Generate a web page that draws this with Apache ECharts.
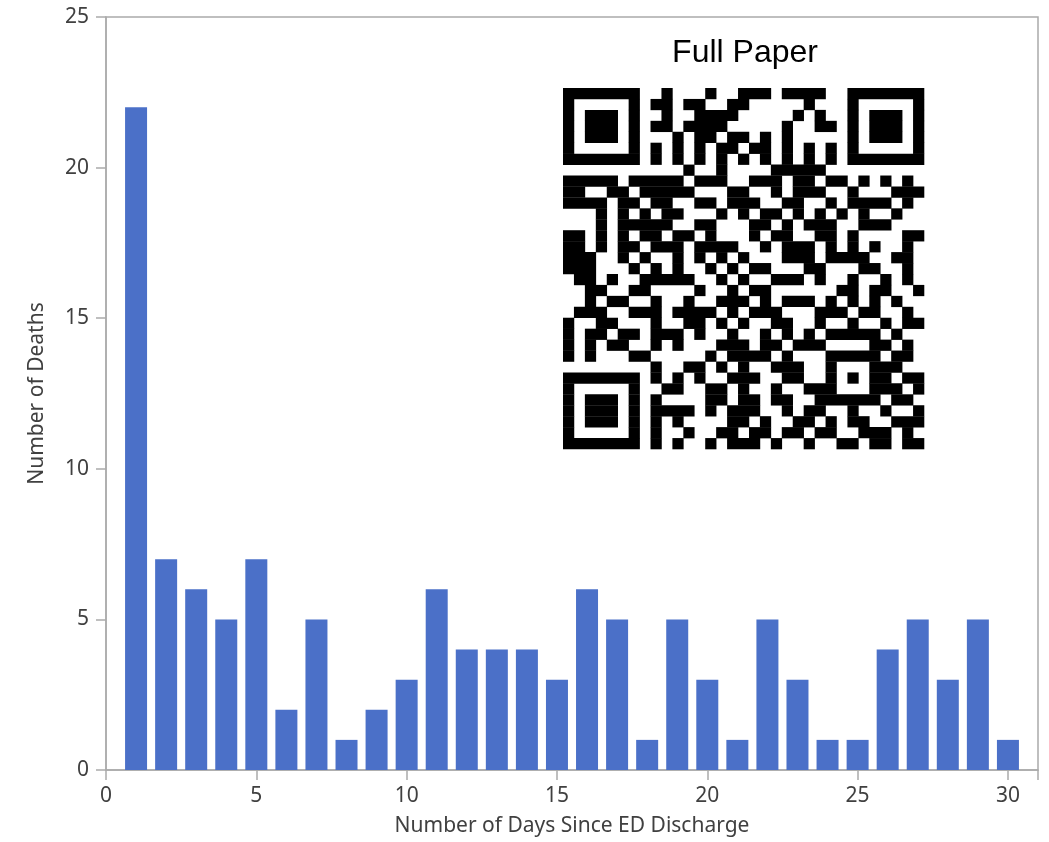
<!DOCTYPE html>
<html>
<head>
<meta charset="utf-8">
<script src="https://cdn.jsdelivr.net/npm/echarts@6/dist/echarts.min.js"></script>
<style>html,body{margin:0;padding:0;background:#fff;}#c{width:1049px;height:842px;}</style>
</head>
<body>
<div id="c"></div>
<script>
// ---- data ----
const days = [1,2,3,4,5,6,7,8,9,10,11,12,13,14,15,16,17,18,19,20,21,22,23,24,25,26,27,28,29,30];
const deaths = [22,7,6,5,7,2,5,1,2,3,6,4,4,4,3,6,5,1,5,3,1,5,3,1,1,4,5,3,5,1];
const xTickLabels = [0,5,10,15,20,25,30];
const yTickLabels = [0,5,10,15,20,25];
const xAxisTitle = 'Number of Days Since ED Discharge';
const yAxisTitle = 'Number of Deaths';
const insetTitle = 'Full Paper';

// QR-code picture (decoration), rows of modules
const qrRows = [
"00000000"+"01000100111011110"+"00000000",
"00000000"+"11011001100000100"+"00000000",
"00000000"+"01001111000001010"+"00000000",
"00000000"+"11011110000010011"+"00000000",
"00000000"+"00101101101010000"+"00000000",
"00000000"+"10101011011010101"+"00000000",
"00000000"+"00000000000000000"+"00000000",
"00000000"+"00010010000111110"+"00000000",
"1111101111101110"+"01110110110101010",
"1100110111110001"+"10010111001000111",
"1111011011001101"+"11001100101111010",
"0001010101100010"+"10110101010100100",
"0001011111001100"+"01101011100111000",
"1101011110110100"+"01011001101000011",
"1101011011101111"+"00101110101010010",
"1110010100101010"+"10001110111100110",
"1110001010100101"+"01100011000110010",
"0110100111110010"+"10011101001001010",
"0011001100001001"+"01100000011011001",
"0010110010010011"+"10101110101010100",
"0111001110111101"+"01110001110110010",
"1001100010011010"+"10011001001001011",
"1011011011101001"+"00101010111110100",
"1010110010100011"+"10110111000011010",
"1010001100000101"+"11101000000000110",
"0000000010011010"+"10011100000001100",
"0000000010"+"1010011100"+"1100000001"+"011",
"0000000001"+"1001101001"+"0011000001"+"101",
"0000000010"+"0001101101"+"1001000000"+"110",
"0000000011"+"1101011100"+"1011001001"+"001",
"0000000010"+"1000011010"+"0110101100"+"111",
"0000000010"+"0100110110"+"1101100111"+"010",
"0000000010"+"1001011101"+"0010011011"+"011"
];

function buildQR() {
  const N = 33;
  const m = qrRows.map(r => (r + '0'.repeat(N)).slice(0, N).split('').map(Number));
  function finder(r0, c0) {
    for (let r = -1; r <= 7; r++) for (let c = -1; c <= 7; c++) {
      const rr = r0 + r, cc = c0 + c;
      if (rr < 0 || cc < 0 || rr >= N || cc >= N) continue;
      let v = 0;
      if (r >= 0 && r <= 6 && c >= 0 && c <= 6) {
        v = (r === 0 || r === 6 || c === 0 || c === 6 || (r >= 2 && r <= 4 && c >= 2 && c <= 4)) ? 1 : 0;
      }
      m[rr][cc] = v;
    }
  }
  finder(0, 0); finder(0, 26); finder(26, 0);
  for (let i = 8; i <= 24; i++) { m[6][i] = i % 2 === 0 ? 1 : 0; m[i][6] = i % 2 === 0 ? 1 : 0; }
  for (let r = -2; r <= 2; r++) for (let c = -2; c <= 2; c++) {
    m[26 + r][26 + c] = (Math.max(Math.abs(r), Math.abs(c)) !== 1) ? 1 : 0;
  }
  m[25][8] = 1;
  return m;
}

function qrGraphic(x0, y0, size) {
  const m = buildQR();
  const N = m.length;
  const s = size / N;
  const children = [];
  for (let r = 0; r < N; r++) {
    let c = 0;
    while (c < N) {
      if (m[r][c]) {
        let e = c;
        while (e + 1 < N && m[r][e + 1]) e++;
        children.push({
          type: 'rect',
          shape: { x: x0 + c * s, y: y0 + r * s, width: (e - c + 1) * s + 0.3, height: s + 0.3 },
          style: { fill: '#000' }
        });
        c = e + 1;
      } else c++;
    }
  }
  return { type: 'group', children: children, silent: true };
}

const chart = echarts.init(document.getElementById('c'));
const axisFont = 'Noto Sans, Open Sans, sans-serif';
const gridGrey = '#ababab';

chart.setOption({
  backgroundColor: '#ffffff',
  animation: false,
  grid: { left: 106, right: 11, top: 17, bottom: 69, show: true, borderColor: gridGrey, borderWidth: 1.5, backgroundColor: 'transparent' },
  xAxis: {
    type: 'value', min: 0, max: 31, interval: 5,
    name: xAxisTitle, nameLocation: 'middle', nameGap: 46,
    nameTextStyle: { fontFamily: axisFont, fontSize: 21, color: '#404040' },
    axisLine: { show: true, lineStyle: { color: gridGrey, width: 1.5 } },
    axisTick: { show: true, length: 10, lineStyle: { color: gridGrey, width: 1.5 } },
    axisLabel: {
      fontFamily: axisFont, fontSize: 21, color: '#404040', margin: 16,
      formatter: v => (xTickLabels.indexOf(v) >= 0 ? String(v) : '')
    },
    splitLine: { show: false }
  },
  yAxis: {
    type: 'value', min: 0, max: 25, interval: 5,
    name: yAxisTitle, nameLocation: 'middle', nameGap: 58, nameRotate: 90,
    nameTextStyle: { fontFamily: axisFont, fontSize: 21, color: '#404040' },
    axisLine: { show: true, lineStyle: { color: gridGrey, width: 1.5 } },
    axisTick: { show: true, length: 10, lineStyle: { color: gridGrey, width: 1.5 } },
    axisLabel: {
      fontFamily: axisFont, fontSize: 21, color: '#404040', margin: 17,
      formatter: v => (yTickLabels.indexOf(v) >= 0 ? String(v) : '')
    },
    splitLine: { show: false }
  },
  series: [{
    type: 'bar',
    data: days.map((d, i) => [d, deaths[i]]),
    barWidth: 22,
    itemStyle: { color: '#4b70c8' }
  }],
  graphic: [
    {
      type: 'text', x: 745, y: 53,
      style: { text: insetTitle, fontFamily: 'Liberation Sans, Arial, sans-serif', fontSize: 32, fill: '#000', textAlign: 'center', textVerticalAlign: 'middle' }
    },
    qrGraphic(563, 88, 361)
  ]
});
</script>
</body>
</html>
